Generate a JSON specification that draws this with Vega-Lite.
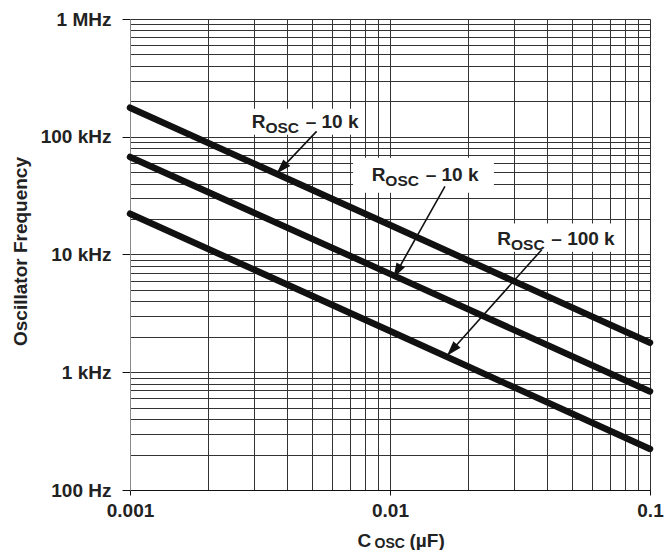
{
  "$schema": "https://vega.github.io/schema/vega-lite/v6.json",
  "autosize": {"type": "none"},
  "padding": {"left": 130, "top": 19, "right": 14, "bottom": 60},
  "width": 520,
  "height": 471,
  "background": "white",
  "config": {
    "view": {"stroke": null},
    "text": {"font": "Liberation Sans", "fontWeight": "bold", "color": "#222"},
    "axis": {"labelFont": "Liberation Sans", "titleFont": "Liberation Sans", "labelFontWeight": "bold", "titleFontWeight": "bold", "labelColor": "#222", "titleColor": "#222"}
  },
  "datasets": {
    "curves": [
      {"C": 0.001, "f": 176500, "series": "A"}, {"C": 0.01, "f": 17800, "series": "A"}, {"C": 0.1, "f": 1780, "series": "A"},
      {"C": 0.001, "f": 67300, "series": "B"}, {"C": 0.01, "f": 6850, "series": "B"}, {"C": 0.1, "f": 687, "series": "B"},
      {"C": 0.001, "f": 22200, "series": "C"}, {"C": 0.01, "f": 2240, "series": "C"}, {"C": 0.1, "f": 223, "series": "C"}
    ],
    "boxes": [
      {"C1": 0.00272, "C2": 0.00774, "f1": 173000, "f2": 104000},
      {"C1": 0.00721, "C2": 0.0251, "f1": 66400, "f2": 33500},
      {"C1": 0.0238, "C2": 0.0801, "f1": 18300, "f2": 10560}
    ],
    "arrows": [
      {"id": 1, "C1": 0.00522, "f1": 111000, "C2": 0.00366, "f2": 48600},
      {"id": 2, "C1": 0.01627, "f1": 37900, "C2": 0.0103, "f2": 6310},
      {"id": 3, "C1": 0.03834, "f1": 10990, "C2": 0.01656, "f2": 1382}
    ],
    "labels": [
      {"C": 0.002938, "f": 119300, "text": "– 10 k"},
      {"C": 0.0085, "f": 41800, "text": "– 10 k"},
      {"C": 0.02586, "f": 12110, "text": "– 100 k"}
    ]
  },
  "resolve": {"axis": {"x": "independent", "y": "independent"}},
  "layer": [
    {
      "data": {"name": "curves"},
      "mark": {"type": "point", "opacity": 0},
      "encoding": {
        "x": {"field": "C", "type": "quantitative", "scale": {"type": "log", "domain": [0.001, 0.1], "nice": false},
          "axis": {"orient": "bottom", "values": [0.001,0.002,0.003,0.004,0.005,0.006,0.007,0.008,0.009,0.01,0.02,0.03,0.04,0.05,0.06,0.07,0.08,0.09,0.1],
            "grid": true, "gridColor": "#333", "gridWidth": 1, "gridOpacity": 1, "labels": false, "ticks": false, "domain": false,
            "title": "OSC", "titleX": 244, "titleY": 57.5, "titleAlign": "left", "titleBaseline": "alphabetic", "titleFontSize": 14}},
        "y": {"field": "f", "type": "quantitative", "scale": {"type": "log", "domain": [100, 1000000], "nice": false},
          "axis": {"orient": "left", "values": [100,200,300,400,500,600,700,800,900,1000,2000,3000,4000,5000,6000,7000,8000,9000,10000,20000,30000,40000,50000,60000,70000,80000,90000,100000,200000,300000,400000,500000,600000,700000,800000,900000,1000000],
            "grid": true, "gridColor": "#333", "gridWidth": 1, "gridOpacity": 1, "labels": false, "ticks": false, "domain": false, "title": null}}
      }
    },
    {
      "data": {"name": "curves"},
      "mark": {"type": "point", "opacity": 0},
      "encoding": {
        "x": {"field": "C", "type": "quantitative",
          "axis": {"orient": "bottom", "grid": false, "labels": false, "ticks": false, "domain": false,
            "title": "(µF)", "titleX": 279, "titleY": 56, "titleAlign": "left", "titleBaseline": "alphabetic", "titleFontSize": 19}},
        "y": {"field": "f", "type": "quantitative", "axis": null}
      }
    },
    {
      "data": {"name": "boxes"},
      "mark": {"type": "rect", "fill": "white"},
      "encoding": {
        "x": {"field": "C1", "type": "quantitative", "axis": null},
        "x2": {"field": "C2"},
        "y": {"field": "f1", "type": "quantitative", "axis": null},
        "y2": {"field": "f2"}
      }
    },
    {
      "data": {"name": "curves"},
      "mark": {"type": "line", "color": "#111", "strokeWidth": 6.5, "strokeCap": "round"},
      "encoding": {
        "x": {"field": "C", "type": "quantitative",
          "axis": {"orient": "bottom", "values": [0.001, 0.01, 0.1], "labelExpr": "format(datum.value, '~g')", "grid": false,
            "tickSize": 5, "tickColor": "#111", "domainColor": "#111", "labelFontSize": 19, "labelPadding": 6, "labelFlush": false,
            "title": "C", "titleX": 227, "titleY": 56, "titleAlign": "left", "titleBaseline": "alphabetic", "titleFontSize": 19}},
        "y": {"field": "f", "type": "quantitative",
          "axis": {"orient": "left", "values": [100, 1000, 10000, 100000, 1000000],
            "labelExpr": "datum.value >= 1000000 ? '1 MHz' : datum.value >= 1000 ? (datum.value / 1000) + ' kHz' : datum.value + ' Hz'",
            "grid": false, "tickSize": 8, "tickColor": "#111", "domainColor": "#888", "labelFontSize": 19, "labelPadding": 11, "labelFlush": false,
            "title": "Oscillator Frequency", "titleX": -110, "titleY": 232, "titleAngle": -90, "titleAlign": "center", "titleBaseline": "middle", "titleFontSize": 19}},
        "detail": {"field": "series"}
      }
    },
    {
      "data": {"name": "arrows"},
      "mark": {"type": "rule", "color": "#111", "strokeWidth": 1.6},
      "encoding": {
        "x": {"field": "C1", "type": "quantitative", "axis": null},
        "x2": {"field": "C2"},
        "y": {"field": "f1", "type": "quantitative", "axis": null},
        "y2": {"field": "f2"}
      }
    },
    {
      "data": {"name": "arrows"},
      "transform": [{"filter": "datum.id == 1"}],
      "mark": {"type": "point", "shape": "M0,0L-0.32,-1L0.32,-1Z", "filled": true, "color": "#111", "opacity": 1, "size": 900, "angle": 43.4},
      "encoding": {
        "x": {"field": "C2", "type": "quantitative", "axis": null},
        "y": {"field": "f2", "type": "quantitative", "axis": null}
      }
    },
    {
      "data": {"name": "arrows"},
      "transform": [{"filter": "datum.id == 2"}],
      "mark": {"type": "point", "shape": "M0,0L-0.32,-1L0.32,-1Z", "filled": true, "color": "#111", "opacity": 1, "size": 900, "angle": 29.4},
      "encoding": {
        "x": {"field": "C2", "type": "quantitative", "axis": null},
        "y": {"field": "f2", "type": "quantitative", "axis": null}
      }
    },
    {
      "data": {"name": "arrows"},
      "transform": [{"filter": "datum.id == 3"}],
      "mark": {"type": "point", "shape": "M0,0L-0.32,-1L0.32,-1Z", "filled": true, "color": "#111", "opacity": 1, "size": 900, "angle": 41.8},
      "encoding": {
        "x": {"field": "C2", "type": "quantitative", "axis": null},
        "y": {"field": "f2", "type": "quantitative", "axis": null}
      }
    },
    {
      "data": {"name": "labels"},
      "mark": {"type": "text", "text": "R", "align": "left", "baseline": "alphabetic", "fontSize": 19},
      "encoding": {
        "x": {"field": "C", "type": "quantitative", "axis": null},
        "y": {"field": "f", "type": "quantitative", "axis": null}
      }
    },
    {
      "data": {"name": "labels"},
      "mark": {"type": "text", "text": "OSC", "align": "left", "baseline": "alphabetic", "fontSize": 15.5, "dx": 13.7, "dy": 5},
      "encoding": {
        "x": {"field": "C", "type": "quantitative", "axis": null},
        "y": {"field": "f", "type": "quantitative", "axis": null}
      }
    },
    {
      "data": {"name": "labels"},
      "mark": {"type": "text", "align": "left", "baseline": "alphabetic", "fontSize": 19, "dx": 54},
      "encoding": {
        "x": {"field": "C", "type": "quantitative", "axis": null},
        "y": {"field": "f", "type": "quantitative", "axis": null},
        "text": {"field": "text"}
      }
    }
  ]
}
